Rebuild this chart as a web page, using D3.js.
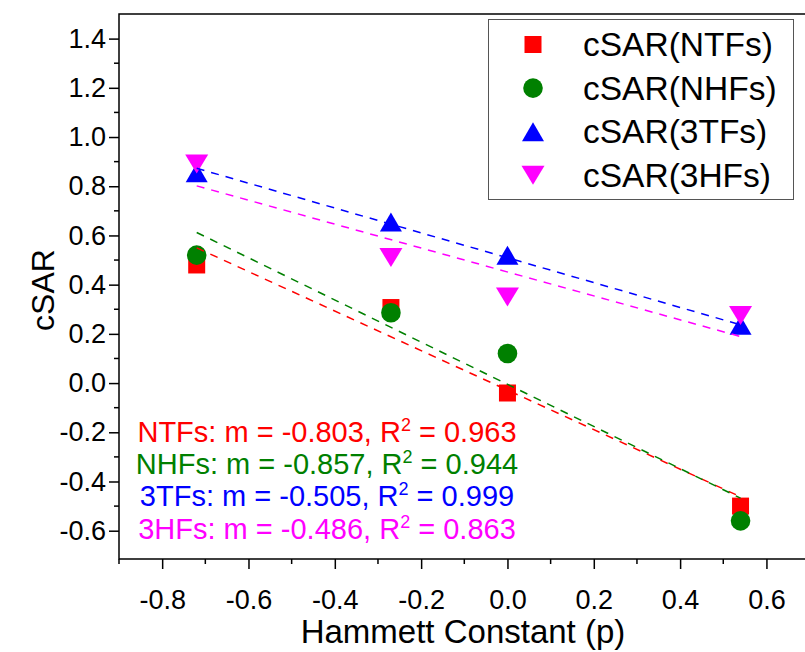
<!DOCTYPE html>
<html>
<head>
<meta charset="utf-8">
<script src="https://cdn.jsdelivr.net/npm/d3@7"></script>
<style>
  html, body { margin: 0; padding: 0; background: #fff; }
  svg { display: block; font-family: "Liberation Sans", Arial, sans-serif; }
</style>
</head>
<body>
<svg id="chart" width="805" height="652"></svg>
<script>
// Hammett constants of the substituents
const sigma = [-0.72, -0.27, 0.0, 0.54];

// cSAR values per series
const ntfs = [0.48, 0.307, -0.04, -0.50];
const nhfs = [0.52, 0.286, 0.12, -0.56];
const tfs3 = [0.855, 0.655, 0.52, 0.235];
const hfs3 = [0.89, 0.51, 0.35, 0.275];

// Linear-fit slopes and R² reported for each series
const slopes = [-0.803, -0.857, -0.505, -0.486];
const r2 = ["0.963", "0.944", "0.999", "0.863"];

const seriesNames = ["NTFs", "NHFs", "3TFs", "3HFs"];
const legendLabels = ["cSAR(NTFs)", "cSAR(NHFs)", "cSAR(3TFs)", "cSAR(3HFs)"];
const colors = ["#ff0000", "#008000", "#0000ff", "#ff00ff"];
const shapes = ["square", "circle", "up", "down"];

const xTicks = [-0.8, -0.6, -0.4, -0.2, 0.0, 0.2, 0.4, 0.6];
const yTicks = [-0.6, -0.4, -0.2, 0.0, 0.2, 0.4, 0.6, 0.8, 1.0, 1.2, 1.4];

const series = [ntfs, nhfs, tfs3, hfs3].map((vals, i) => ({
  name: seriesNames[i], label: legendLabels[i], color: colors[i], shape: shapes[i],
  slope: slopes[i], r2: r2[i],
  points: vals.map((v, j) => ({ x: sigma[j], y: v }))
}));

const svg = d3.select("#chart");
const plotL = 119, plotR = 809.6, plotT = 14, plotB = 559;

const x = d3.scaleLinear().domain([-0.9, 0.7]).range([plotL, plotR]);
const y = d3.scaleLinear().domain([-0.715, 1.5]).range([plotB, plotT]);

// marker path centred on (cx, cy)
function markerPath(shape, cx, cy) {
  const p = d3.path();
  if (shape === "square") {
    const h = 8.5;
    p.rect(cx - h, cy - h, 2 * h, 2 * h);
  } else if (shape === "circle") {
    p.moveTo(cx + 9.8, cy);
    p.arc(cx, cy, 9.8, 0, 2 * Math.PI);
  } else if (shape === "up") {
    p.moveTo(cx, cy - 9.5); p.lineTo(cx + 11, cy + 9.5); p.lineTo(cx - 11, cy + 9.5); p.closePath();
  } else {
    p.moveTo(cx - 11.5, cy - 9.5); p.lineTo(cx + 11.5, cy - 9.5); p.lineTo(cx, cy + 9.5); p.closePath();
  }
  return p.toString();
}

// axes
const xAxis = d3.axisBottom(x).tickValues(xTicks).tickSize(10).tickPadding(0);
const yAxis = d3.axisLeft(y).tickValues(yTicks).tickSize(10).tickPadding(3);

const minorX = d3.range(-9, 8, 2).map(k => k / 10);
const minorY = d3.range(-5, 15, 2).map(k => k / 10);

const gx = svg.append("g").attr("transform", `translate(0,${plotB})`).call(xAxis);
const gy = svg.append("g").attr("transform", `translate(${plotL},0)`).call(yAxis);
[gx, gy].forEach(g => {
  g.select(".domain").remove();
  g.selectAll(".tick line").attr("stroke", "#000").attr("stroke-width", 1.5);
  g.selectAll(".tick text").attr("fill", "#000").style("font-size", "27px")
    .text(d => (Math.abs(d) < 1e-9 ? 0 : d).toFixed(1));
});
gx.selectAll(".tick text").attr("y", 50).attr("dy", null);

svg.append("g").selectAll("line").data(minorX).join("line")
  .attr("x1", d => x(d)).attr("x2", d => x(d))
  .attr("y1", plotB).attr("y2", plotB + 5)
  .attr("stroke", "#000").attr("stroke-width", 1.5);
svg.append("g").selectAll("line").data(minorY).join("line")
  .attr("x1", plotL - 5).attr("x2", plotL)
  .attr("y1", d => y(d)).attr("y2", d => y(d))
  .attr("stroke", "#000").attr("stroke-width", 1.5);

// frame: left, bottom and top lines
svg.append("path")
  .attr("d", `M${plotL},${plotB}H${plotR}M${plotL},${plotB + 0.5}V${plotT}M${plotL - 0.75},${plotT}H${plotR}`)
  .attr("fill", "none").attr("stroke", "#000").attr("stroke-width", 1.5);

// axis titles
svg.append("text").attr("x", 463).attr("y", 643).attr("text-anchor", "middle")
  .style("font-size", "33px").text("Hammett Constant (p)");
svg.append("text").attr("transform", "translate(54,290) rotate(-90)")
  .attr("text-anchor", "middle").style("font-size", "32px").text("cSAR");

// data markers
series.forEach(s => {
  svg.append("g").selectAll("path").data(s.points).join("path")
    .attr("d", d => markerPath(s.shape, x(d.x), y(d.y)))
    .attr("fill", s.color);
});

// fitted lines with the reported slopes, through each series' centroid
series.forEach(s => {
  const mx = d3.mean(s.points, d => d.x), my = d3.mean(s.points, d => d.y);
  const x0 = d3.min(sigma), x1 = d3.max(sigma);
  const line = d3.line().x(d => x(d[0])).y(d => y(d[1]));
  svg.append("path")
    .attr("d", line([[x0, my + s.slope * (x0 - mx)], [x1, my + s.slope * (x1 - mx)]]))
    .attr("fill", "none").attr("stroke", s.color).attr("stroke-width", 1.5)
    .attr("stroke-dasharray", "8,7");
});

// fit annotations
const ann = svg.append("g");
series.forEach((s, i) => {
  const t = ann.append("text").attr("x", 327).attr("y", 442 + i * 32.2)
    .attr("text-anchor", "middle").attr("fill", s.color).style("font-size", "29px");
  t.append("tspan").text(`${s.name}: m = ${s.slope.toFixed(3)}, R`);
  t.append("tspan").attr("dy", -11).style("font-size", "18px").text("2");
  t.append("tspan").attr("dy", 11).text(` = ${s.r2}`);
});

// legend
const lg = svg.append("g");
lg.append("rect").attr("x", 488.5).attr("y", 19.5).attr("width", 305).attr("height", 180)
  .attr("fill", "#fff").attr("stroke", "#555").attr("stroke-width", 1);
series.forEach((s, i) => {
  const cy = 44.5 + i * 43.6;
  lg.append("path").attr("d", markerPath(s.shape, 533, cy)).attr("fill", s.color);
  lg.append("text").attr("x", 583).attr("y", cy + 11.5).style("font-size", "33.5px").text(s.label);
});
</script>
</body>
</html>
